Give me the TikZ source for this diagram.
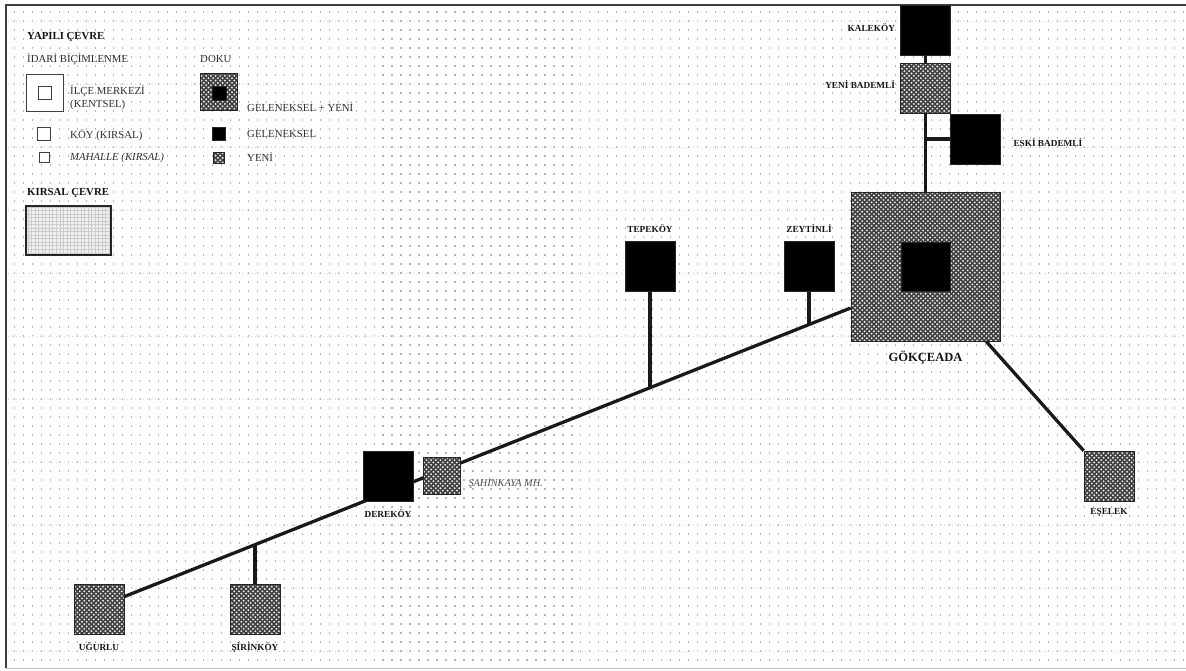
\documentclass[tikz,border=0pt]{standalone}
\usepackage{fontspec}
\setmainfont{Liberation Serif}
\usetikzlibrary{positioning, backgrounds, patterns, calc}
\pgfdeclarepatternformonly{yenidoku}{\pgfqpoint{-1pt}{-1pt}}{\pgfqpoint{5pt}{5pt}}{\pgfqpoint{4pt}{4pt}}{%
	\pgfpathcircle{\pgfqpoint{0pt}{0pt}}{.9pt}%
	\pgfpathcircle{\pgfqpoint{2pt}{2pt}}{.9pt}%
	\pgfusepath{fill}}
\tikzset{%
	kutu/.style={draw=black!85, rectangle, inner sep=0mm, line width=0.5pt},
	koy/.style={kutu, minimum size=15mm},
	mahalle/.style={kutu, minimum size=11.1mm},
	geleneksel/.style={fill=black},
	yeni/.style={fill=black!75, postaction={pattern=yenidoku, pattern color=white!92!black},%
		postaction={draw=black!85, line width=0.5pt}},
	kirsal/.style={rectangle, minimum width=25.5mm, minimum height=14.7mm, fill=gray!12,%
		postaction={pattern=grid, pattern color=gray!40},%
		postaction={draw=black!85, line width=1.7pt}},
	bos/.style={kutu, draw=black!75, fill=white},
	yol/.style={line width=2.8pt, draw=black!90},
	etiket/.style={inner sep=0mm, font=\fontsize{7.9}{9}\selectfont\bfseries, text=black!92},
	lejant/.style={inner sep=0mm, anchor=west, font=\fontsize{9.2}{11}\selectfont, text=black!82},
	baslik/.style={lejant, font=\fontsize{9.2}{11}\selectfont\bfseries, text=black!92},
	nokta/.style={draw=gray!58, line width=0.9pt, dash pattern=on 0.9pt off 6.78pt},
	anacizgi/.style={draw=gray!32, line width=0.6pt, dash pattern=on 0.8pt off 2.6pt},
	cerceve/.style={line width=1.7pt}
}
\begin{document}
\begin{tikzpicture}[x=0.3mm, y=-0.3mm]
	\useasboundingbox (0,0) rectangle (1186,671);

	% arka plan
	\begin{scope}[on background layer]
		\foreach \y in {12,21,...,660}
			\draw[nokta] (13.6,\y) -- (1186,\y);
		\foreach \y in {21,84,...,651}
			\draw[anacizgi] (8,\y) -- (1186,\y);
	\end{scope}
	\draw[cerceve, draw=black!75] (1186,5) -- (6,5) -- (6,668);
	\draw[gray!45, line width=0.6pt] (6,668) -- (1186,668);

	% lejant
	\node[baslik] at (27,37) {YAPILI ÇEVRE};
	\node[lejant] at (27,59) {İDARİ BİÇİMLENME};
	\node[lejant] at (200,59) {DOKU};
	\node[bos, minimum size=11.1mm] (lmerkez) at (44.5,92.5) {};
	\node[bos, line width=0.8pt, minimum size=3.9mm] (lmerkezic) at (44.5,93) {};
	\node[lejant, align=left] at (70,97.5) {İLÇE MERKEZİ\\(KENTSEL)};
	\node[bos, line width=0.8pt, minimum size=3.75mm] (lkoy) at (44,134) {};
	\node[lejant] at (70,135) {KÖY (KIRSAL)};
	\node[bos, line width=0.8pt, minimum size=2.85mm] (lmahalle) at (44.5,157.5) {};
	\node[lejant, font=\fontsize{9.2}{11}\selectfont\itshape] at (70,158) {MAHALLE (KIRSAL)};
	\node[kutu, yeni, minimum size=11.1mm] (ldoku) at (219,92) {};
	\node[kutu, geleneksel, minimum size=4.2mm] at (219,93) {};
	\node[lejant] at (247,107) {GELENEKSEL + YENİ};
	\node[kutu, geleneksel, minimum size=3.9mm] (lgelenek) at (219,134) {};
	\node[lejant] at (247,134) {GELENEKSEL};
	\node[kutu, yeni, minimum size=3.3mm] (lyeni) at (218.5,157.5) {};
	\node[lejant] at (247,157) {YENİ};
	\node[baslik] at (27,193) {KIRSAL ÇEVRE};
	\node[kirsal] (lkirsal) at (68.5,230.5) {};

	% yerlesimler
	\node[koy, geleneksel] (kalekoy) at (925.5,30) {};
	\node[koy, yeni] (yenibademli) at (925.5,88) {};
	\node[koy, geleneksel] (eskibademli) at (975,139) {};
	\node[kutu, yeni, minimum size=44.7mm] (gokceada) at (925.5,266.5) {};
	\node[kutu, geleneksel, minimum size=14.7mm] (gokceadaic) at (925.5,266.5) {};
	\node[koy, geleneksel] (tepekoy) at (650,266.5) {};
	\node[koy, geleneksel] (zeytinli) at (809,266.5) {};
	\node[koy, geleneksel] (derekoy) at (388,476) {};
	\node[mahalle, yeni] (sahinkaya) at (441.5,475.5) {};
	\node[koy, yeni] (ugurlu) at (99,609.5) {};
	\node[koy, yeni] (sirinkoy) at (255,609.5) {};
	\node[koy, yeni] (eselek) at (1109,476) {};

	\node[etiket, left=1.5mm of kalekoy, yshift=0.6mm] {KALEKÖY};
	\node[etiket, left=1.5mm of yenibademli, yshift=0.9mm] {YENİ BADEMLİ};
	\node[etiket, right=3.9mm of eskibademli, yshift=-1.2mm] {ESKİ BADEMLİ};
	\node[etiket, above=2.6mm of tepekoy] {TEPEKÖY};
	\node[etiket, above=2.6mm of zeytinli] {ZEYTİNLİ};
	\node[etiket, below=3mm of gokceada, font=\fontsize{10.7}{12}\selectfont\bfseries] {GÖKÇEADA};
	\node[etiket, below=2.4mm of derekoy] {DEREKÖY};
	\node[etiket, right=2.4mm of sahinkaya, yshift=-2.2mm, font=\fontsize{8.8}{10}\selectfont\itshape, text=black!70] {ŞAHİNKAYA MH.};
	\node[etiket, below=2.2mm of ugurlu] {UĞURLU};
	\node[etiket, below=2.2mm of sirinkoy] {ŞİRİNKÖY};
	\node[etiket, below=2.2mm of eselek] {EŞELEK};

	% yollar
	\begin{scope}[on background layer]
		\draw[yol] (gokceada.209) -- (ugurlu.27);
		\coordinate (ztn) at ($(gokceada.209)!0.0578!(ugurlu.27)$);
		\coordinate (tpk) at ($(gokceada.209)!0.2765!(ugurlu.27)$);
		\coordinate (srn) at ($(gokceada.209)!0.8198!(ugurlu.27)$);
		\draw[yol] (zeytinli.south) -- (zeytinli.south |- ztn);
		\draw[yol] (tepekoy.south) -- (tepekoy.south |- tpk);
		\draw[yol] (sirinkoy.north) -- (sirinkoy.north |- srn);
	\end{scope}
	\draw[yol] (gokceada.-51) -- (eselek.north west);
	\draw[yol] (kalekoy.south) -- (yenibademli.north);
	\draw[yol] (yenibademli.south) -- (gokceada.north);
	\draw[yol] (eskibademli.west) -- (eskibademli.west -| yenibademli.south);
\end{tikzpicture}
\end{document}
